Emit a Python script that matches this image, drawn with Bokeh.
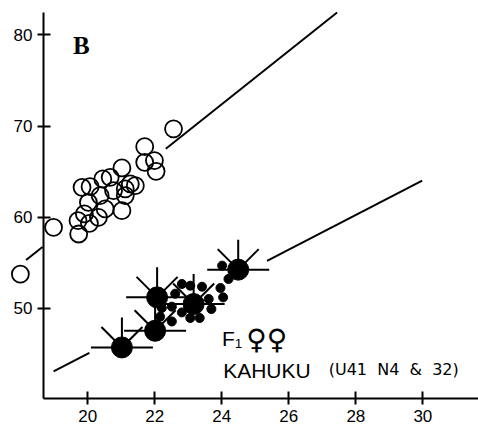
import math
from bokeh.plotting import figure
from bokeh.models import Range1d, FixedTicker, Label
from bokeh.embed import file_html
from bokeh.resources import INLINE

# Open circles (upper group)
open_x = [17.99, 18.98, 19.73, 19.71, 20.05, 19.90, 20.32, 20.52, 21.02, 20.02,
          20.37, 20.77, 21.12, 21.12, 19.83, 20.07, 21.27, 21.42, 20.45, 20.67,
          21.02, 21.70, 21.70, 21.99, 22.04, 22.56]
open_y = [53.77, 58.89, 58.16, 59.62, 59.33, 60.36, 59.99, 60.91, 60.72, 61.63,
          62.37, 62.92, 62.37, 63.10, 63.28, 63.35, 63.65, 63.46, 64.20, 64.37,
          65.41, 67.74, 66.02, 66.21, 65.03, 69.69]

# Small filled dots (lower group)
dot_x = [22.81, 23.06, 23.41, 22.21, 22.51, 22.16, 22.51, 22.81, 23.06, 23.34,
         23.61, 23.69, 23.96, 24.04, 24.20, 24.01, 22.61]
dot_y = [52.68, 52.49, 52.38, 50.04, 50.19, 49.09, 48.57, 49.56, 48.95, 48.95,
         51.03, 49.93, 52.24, 51.21, 53.23, 54.69, 51.61]

# Large filled means (F1 females)
mean_x = [21.02, 22.01, 22.07, 23.16, 24.49]
mean_y = [45.72, 47.55, 51.21, 50.48, 54.25]

# Regression lines: y = a + b*x, drawn over the given x-segments
upper_a, upper_b = 2.19, 2.925
upper_segments = [(18.16, 18.65), (22.33, 27.44)]
lower_a, lower_b = 6.99, 1.902
lower_segments = [(18.98, 20.05), (25.35, 29.98)]

x_ticks = [20, 22, 24, 26, 28, 30]
y_ticks = [50, 60, 70, 80]
x_axis_start, x_axis_end = 18.68, 31.66
y_axis_start, y_axis_end = 40.12, 82.45

panel_label = "B"
label_line1 = "F\u2081"
label_sym = "\u2640\u2640"
label_line2 = "KAHUKU"
label_line3 = "(U41\u00a0 N4\u00a0 &\u00a0 32)"

p = figure(width=478, height=429, output_backend="svg", toolbar_location=None,
           x_range=Range1d(x_axis_start, x_axis_end),
           y_range=Range1d(y_axis_start, y_axis_end),
           min_border_left=43, min_border_right=0, min_border_top=12,
           min_border_bottom=31)
p.outline_line_color = None
p.xgrid.grid_line_color = None
p.ygrid.grid_line_color = None
p.background_fill_color = "white"
p.border_fill_color = "white"

for ax, ticks in ((p.xaxis, x_ticks), (p.yaxis, y_ticks)):
    ax.ticker = FixedTicker(ticks=ticks)
    ax.axis_line_width = 2
    ax.axis_line_color = "black"
    ax.major_tick_line_width = 2
    ax.major_tick_line_color = "black"
    ax.major_tick_in = 7
    ax.major_tick_out = 6
    ax.minor_tick_line_color = None
    ax.major_label_text_font = "Liberation Sans"
    ax.major_label_text_font_size = "17px"
    ax.major_label_text_color = "black"
    ax.major_label_standoff = 5

def seg_lines(a, b, segs):
    xs = [[s0, s1] for s0, s1 in segs]
    ys = [[a + b * s0, a + b * s1] for s0, s1 in segs]
    return xs, ys

uxs, uys = seg_lines(upper_a, upper_b, upper_segments)
lxs, lys = seg_lines(lower_a, lower_b, lower_segments)
p.multi_line(uxs, uys, line_color="black", line_width=2, level="annotation")
p.multi_line(lxs, lys, line_color="black", line_width=2)

# open circles drawn as thin rings
p.annulus(x=open_x, y=open_y, inner_radius=7.6, outer_radius=9.4,
          inner_radius_units="screen", outer_radius_units="screen",
          fill_color="black", line_color=None, level="annotation")

# spokes around the means
for ang, ln in ((0, 31), (math.pi, 31), (math.pi / 2, 30), (math.pi / 4, 29), (3 * math.pi / 4, 29)):
    p.ray(x=mean_x, y=mean_y, length=ln, length_units="screen", angle=ang,
          line_color="black", line_width=2)

p.scatter(dot_x, dot_y, marker="circle", size=9, fill_color="black", line_color="black")
p.scatter(mean_x, mean_y, marker="circle", size=21, fill_color="black", line_color="black")

p.add_layout(Label(x=19.56, y=77.35, text=panel_label, text_font="Liberation Serif",
                   text_font_style="bold", text_font_size="25px", text_color="black"))
p.add_layout(Label(x=24.01, y=45.39, text=label_line1, text_font="Liberation Sans",
                   text_font_size="21px", text_color="black"))
p.add_layout(Label(x=24.73, y=44.81, text=label_sym, text_font="DejaVu Sans",
                   text_font_size="28px", text_color="black"))
p.add_layout(Label(x=24.04, y=41.91, text=label_line2, text_font="Liberation Sans",
                   text_font_size="21px", text_color="black"))
p.add_layout(Label(x=27.19, y=42.28, text=label_line3, text_font="DejaVu Sans",
                   text_font_size="16px", text_color="black"))

open("out.html", "w").write(file_html(p, INLINE))
